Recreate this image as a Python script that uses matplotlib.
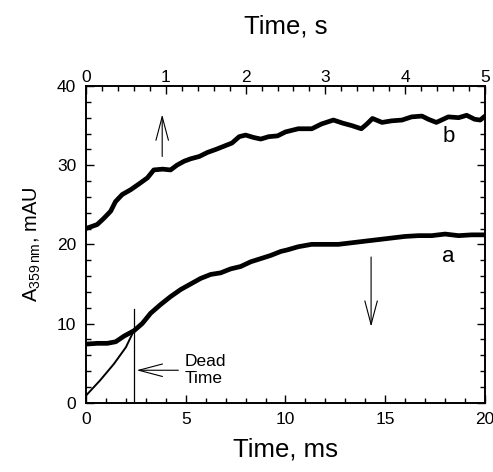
import matplotlib
matplotlib.use("Agg")
import matplotlib.pyplot as plt
from matplotlib.ticker import MultipleLocator

plt.rcParams["font.family"] = ["Liberation Sans", "DejaVu Sans"]

# trace a (bottom axis, ms)
a_ms = [0.0, 0.57, 1.07, 1.49, 1.90, 2.41, 2.82, 3.24, 3.74, 4.24, 4.75, 5.25,
        5.75, 6.25, 6.75, 7.25, 7.75, 8.26, 8.76, 9.26, 9.76, 10.09, 10.64,
        11.31, 11.98, 12.65, 13.32, 13.98, 14.65, 15.32, 15.99, 16.66, 17.33,
        18.0, 18.67, 19.33, 20.0]
a_mau = [7.4, 7.5, 7.5, 7.7, 8.4, 9.1, 10.0, 11.3, 12.4, 13.4, 14.3, 15.0,
         15.7, 16.2, 16.4, 16.9, 17.2, 17.8, 18.2, 18.6, 19.1, 19.3, 19.7,
         20.0, 20.0, 20.0, 20.2, 20.4, 20.6, 20.8, 21.0, 21.1, 21.1,
         21.3, 21.1, 21.2, 21.2]

# trace b (top axis, s)
b_s = [0.0, 0.14, 0.225, 0.31, 0.37, 0.455, 0.56, 0.66, 0.77, 0.85, 0.96,
       1.06, 1.14, 1.23, 1.31, 1.42, 1.52, 1.63, 1.73, 1.83, 1.92, 2.0, 2.1,
       2.19, 2.29, 2.40, 2.50, 2.66, 2.83, 2.95, 3.10, 3.22, 3.33, 3.45,
       3.52, 3.59, 3.71, 3.83, 3.96, 4.08, 4.21, 4.29, 4.39, 4.54, 4.67,
       4.77, 4.87, 4.94, 5.0]
b_mau = [22.0, 22.5, 23.3, 24.2, 25.4, 26.3, 26.9, 27.6, 28.4, 29.4, 29.5,
         29.4, 30.0, 30.5, 30.8, 31.1, 31.6, 32.0, 32.4, 32.8, 33.6, 33.8, 33.5,
         33.3, 33.6, 33.7, 34.2, 34.6, 34.6, 35.2, 35.7, 35.3, 35.0, 34.6,
         35.2, 35.9, 35.4, 35.6, 35.7, 36.1, 36.2, 35.8, 35.4, 36.1, 36.0,
         36.3, 35.8, 35.7, 36.2]

# extrapolation back to t = 0 through the dead time
fit_ms = [0.0, 0.7, 1.4, 2.0, 2.4]
fit_mau = [0.9, 2.8, 4.9, 7.0, 9.1]

dead_time = 2.41

fig, ax = plt.subplots(figsize=(4.93, 4.72), dpi=100)
fig.subplots_adjust(left=0.1744, right=0.9838, bottom=0.1468, top=0.8178)

ax.plot(a_ms, a_mau, color="black", lw=3.4, solid_capstyle="round")
ax.plot(fit_ms, fit_mau, color="black", lw=1.4)
ax.plot([dead_time, dead_time], [0, 11.8], color="black", lw=0.9)

ax.set_xlim(0, 20)
ax.set_ylim(0, 40)
ax.xaxis.set_major_locator(MultipleLocator(5))
ax.xaxis.set_minor_locator(MultipleLocator(1))
ax.yaxis.set_major_locator(MultipleLocator(10))
ax.yaxis.set_minor_locator(MultipleLocator(2))
ax.tick_params(which="both", direction="in", right=True, top=False, labelsize=12.5)
ax.tick_params(which="major", length=6, width=1)
ax.tick_params(which="minor", length=3.5, width=1)
ax.tick_params(axis="x", pad=7)
ax.tick_params(axis="y", pad=7)
ax.set_xlabel("Time, ms", fontsize=18.5, labelpad=7)
ax.set_ylabel(r"A$_{\mathregular{359\,nm}}$, mAU", fontsize=14.5, labelpad=10)

ax2 = ax.twiny()
ax2.plot(b_s, b_mau, color="black", lw=3.4, solid_capstyle="round")
ax2.set_xlim(0, 5)
ax2.xaxis.set_major_locator(MultipleLocator(1))
ax2.xaxis.set_minor_locator(MultipleLocator(0.2))
ax2.tick_params(which="both", direction="in", labelsize=12.5, pad=1)
ax2.tick_params(which="major", length=6, width=1)
ax2.tick_params(which="minor", length=3.5, width=1)
ax2.set_xlabel("Time, s", fontsize=18.5, labelpad=26)

for a in (ax, ax2):
    for s in a.spines.values():
        s.set_linewidth(1.2)

arrow = dict(arrowstyle="->,head_length=1.7,head_width=0.45", lw=0.8, color="black",
             shrinkA=0, shrinkB=0)
ax.annotate("", xy=(3.82, 36.4), xytext=(3.82, 31.1), arrowprops=arrow)
ax.annotate("", xy=(14.29, 9.6), xytext=(14.29, 18.4), arrowprops=arrow)
ax.annotate("", xy=(2.54, 4.1), xytext=(4.63, 4.1), arrowprops=arrow)

ax.text(4.96, 4.15, "Dead\nTime", fontsize=12.5, ha="left", va="center")
ax.text(18.16, 18.5, "a", fontsize=16, ha="center", va="center")
ax.text(18.16, 33.6, "b", fontsize=16, ha="center", va="center")

plt.savefig("out.png", dpi=100)
